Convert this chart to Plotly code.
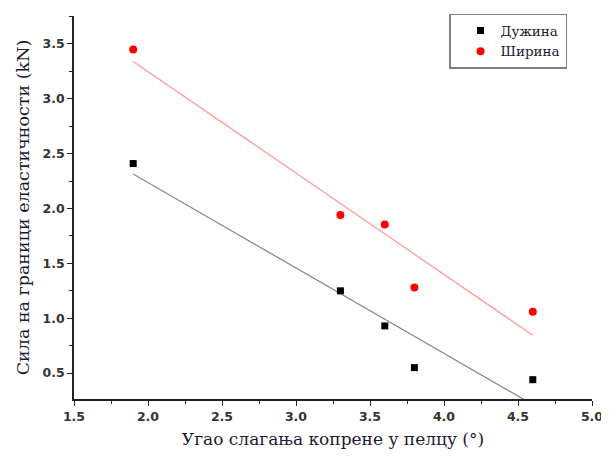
import numpy as np
import plotly.graph_objects as go

angle = [1.9, 3.3, 3.6, 3.8, 4.6]
length_force = [2.41, 1.25, 0.93, 0.55, 0.44]
width_force = [3.45, 1.94, 1.855, 1.28, 1.06]
series_names = ["Дужина", "Ширина"]
x_title = "Угао слагања копрене у пелцу (°)"
y_title = "Сила на граници еластичности (kN)"

fig = go.Figure()

xs = np.array(angle)
for ys, lcol in [(length_force, "#8c8c8c"), (width_force, "#ff9a9a")]:
    k, b = np.polyfit(xs, np.array(ys), 1)
    fx = np.array([xs.min(), xs.max()])
    fig.add_trace(go.Scatter(x=fx, y=k * fx + b, mode="lines",
                             line=dict(color=lcol, width=1.3), showlegend=False, hoverinfo="skip"))

fig.add_trace(go.Scatter(x=angle, y=length_force, mode="markers", name=series_names[0],
                         marker=dict(symbol="square", color="#000000", size=7)))
fig.add_trace(go.Scatter(x=angle, y=width_force, mode="markers", name=series_names[1],
                         marker=dict(symbol="circle", color="#ff0000", size=8)))

tickfont = dict(family="DejaVu Sans", size=12.5, color="#333333", weight="bold")
xtitlefont = dict(family="DejaVu Serif", size=17, color="#1a1a33")
ytitlefont = dict(family="DejaVu Serif", size=17.5, color="#1a1a33")

fig.update_layout(
    width=601, height=441,
    margin=dict(l=66, r=17, t=7, b=50),
    paper_bgcolor="white", plot_bgcolor="white",
    showlegend=True,
    legend=dict(x=0.724, y=1.003, xanchor="left", yanchor="top",
                bordercolor="#808080", borderwidth=1.5, bgcolor="white",
                font=dict(family="DejaVu Serif", size=13.5, color="#1a1a33"),
                tracegroupgap=0, itemwidth=30, indentation=10),
    xaxis=dict(range=[1.5, 5.0], tick0=1.5, dtick=0.5, tickformat=".1f", automargin=False,
               showgrid=False, zeroline=False, showline=True, linecolor="#222222", linewidth=1.5,
               ticks="outside", ticklen=5, tickwidth=1.2, tickcolor="#222222",
               minor=dict(ticks="outside", ticklen=3, tickwidth=1, tickcolor="#222222", dtick=0.25, tick0=1.5),
               tickfont=tickfont,
               title=dict(text=x_title, font=xtitlefont, standoff=13)),
    yaxis=dict(range=[0.264, 3.755], tick0=0.5, dtick=0.5, tickformat=".1f", automargin=False,
               showgrid=False, zeroline=False, showline=True, linecolor="#222222", linewidth=1.5,
               ticks="outside", ticklen=5, tickwidth=1.2, tickcolor="#222222",
               minor=dict(ticks="outside", ticklen=3, tickwidth=1, tickcolor="#222222", dtick=0.25, tick0=0.25),
               tickfont=tickfont,
               title=dict(text=y_title, font=ytitlefont, standoff=8)),
)

fig.write_html("out.html")
